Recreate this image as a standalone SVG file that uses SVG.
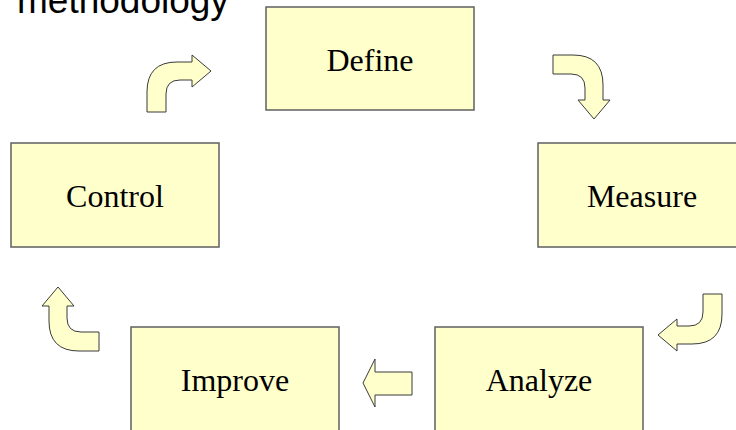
<svg xmlns="http://www.w3.org/2000/svg" width="736" height="430" viewBox="0 0 736 430">
  <style>
    .box { fill: #FFFFCC; stroke: #5f5f5f; stroke-width: 1.5; }
    .lbl { font-family: "Liberation Serif", "Times New Roman", serif; font-size: 32px; fill: #000; text-anchor: middle; }
    .arr { fill: #FFFFCC; stroke: #3a3a3a; stroke-width: 1; stroke-linejoin: miter; }
    .title { font-family: "Liberation Sans", Arial, sans-serif; font-size: 37px; fill: #000; }
  </style>
  <defs>
    <path id="bent" d="M0,57 V37 Q0,7 30,7 H45 V0 L64,16 L45,32 V25 H33 Q19,25 19,39 V57 Z"/>
  </defs>
  <rect width="736" height="430" fill="#ffffff"/>
  <text class="title" x="17" y="13">methodology</text>

  <g id="define">
    <rect class="box" x="266" y="7" width="208" height="103"/>
    <text class="lbl" x="370" y="71">Define</text>
  </g>
  <g id="measure">
    <rect class="box" x="538" y="143" width="208" height="104"/>
    <text class="lbl" x="642" y="207">Measure</text>
  </g>
  <g id="control">
    <rect class="box" x="11" y="143" width="208" height="104"/>
    <text class="lbl" x="115" y="207">Control</text>
  </g>
  <g id="improve">
    <rect class="box" x="131" y="327" width="208" height="104"/>
    <text class="lbl" x="235" y="391">Improve</text>
  </g>
  <g id="analyze">
    <rect class="box" x="435" y="327" width="208" height="104"/>
    <text class="lbl" x="539" y="391">Analyze</text>
  </g>

  <g id="connectors">
    <use href="#bent" class="arr" transform="translate(147,55)"/>
    <use href="#bent" class="arr" transform="translate(610,55) rotate(90)"/>
    <use href="#bent" class="arr" transform="translate(722,351) rotate(180)"/>
    <path class="arr" d="M412,372 H375 V359 L363,383 L375,407 V395 H412 Z"/>
    <use href="#bent" class="arr" transform="translate(42,351) rotate(-90)"/>
  </g>
</svg>
